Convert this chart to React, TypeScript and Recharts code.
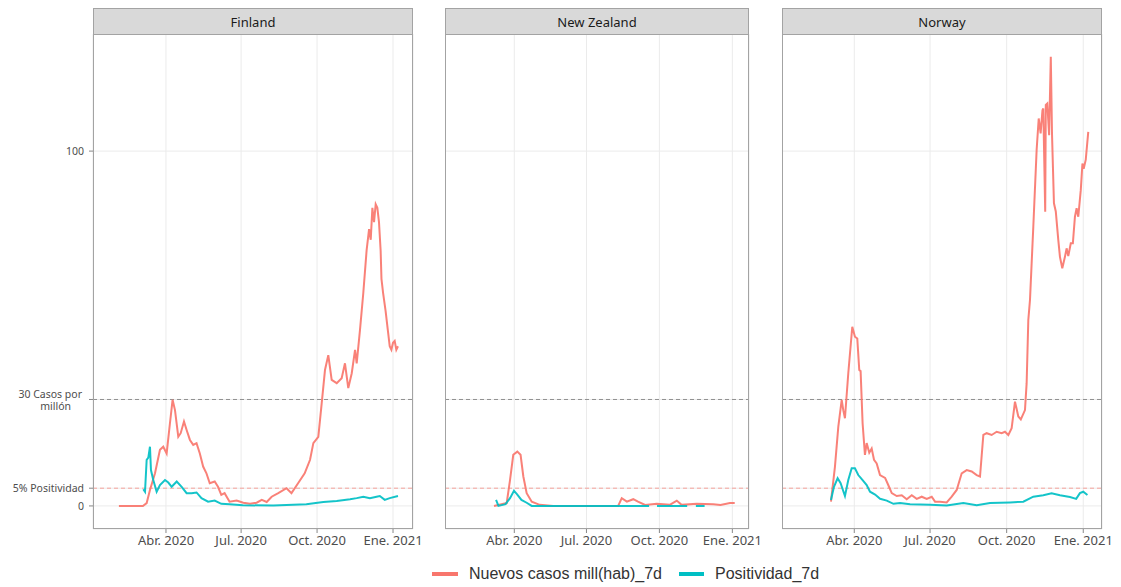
import React from 'react';
import { LineChart, Line, XAxis, YAxis, CartesianGrid, ReferenceLine } from 'recharts';

const RED = '#F8766D';
const TEAL = '#00BFC4';

// day numbers counted from 2020-01-01 (day 0)
const dateTicks = [91, 182, 274, 366];
const dateTickLabels = ['Abr. 2020', 'Jul. 2020', 'Oct. 2020', 'Ene. 2021'];
const yTicks = [0, 5, 30, 100];
const yTickLabels = ['0', '5% Positividad', '30 Casos por\nmillón', '100'];
const seriesNames = ['Nuevos casos mill(hab)_7d', 'Positividad_7d'];

type Pt = [number, number | null];

const finlandCases: Pt[] = [
  [34, 0], [50, 0], [63, 0], [67.6, 0.8], [71.6, 4.5], [77.7, 9.2], [83.7, 15.8], [87.7, 16.7],
  [91.8, 14.8], [95.8, 23.3], [99, 29.9], [101.9, 27], [105.9, 19.5], [108.8, 20.5], [112.8, 23.8],
  [116, 21.4], [120, 18.6], [124, 17.2], [128, 17.7], [132, 14.8], [136, 11.1], [140, 9.2],
  [144, 6.4], [150, 6.9], [154, 5.4], [158, 3.1], [162, 3.6], [168, 1.2], [176.6, 1.5],
  [184.6, 0.9], [192.8, 0.6], [200.8, 0.9], [207, 1.7], [213, 1.1], [219, 2.6], [227, 3.6],
  [237, 5], [243, 3.6], [251, 6.4], [259, 9.2], [265.5, 13], [269.5, 17.7], [275.5, 19.5],
  [279.6, 28.9], [283.6, 38.3], [287.6, 42.5], [291.7, 35.5], [297.8, 34.6], [303.8, 36],
  [307.8, 40.2], [311.8, 33.2], [316, 37.4], [320, 44], [322, 40.2], [326, 49.6], [330, 60],
  [334, 72], [337, 78], [339, 75], [341, 84], [343, 80], [345, 85], [347, 84], [349, 80],
  [351, 72], [352, 64], [354, 60], [357, 55], [360, 49], [362, 45], [364, 44], [366, 46],
  [368, 46.5], [370, 44], [372, 45],
];

const finlandPositivity: Pt[] = [
  [63.5, 4.7], [65.6, 4], [67.6, 13], [69.6, 13.6], [71.6, 16.7], [72.8, 10.1], [75.6, 7.3],
  [79.7, 4], [83.7, 5.9], [89.8, 7.3], [93.8, 6.6], [97.9, 5.4], [104, 6.9], [110, 5.4],
  [116, 3.6], [122, 3.6], [128, 3.8], [134, 2.2], [142, 1.2], [150, 1.5], [158, 0.6],
  [168, 0.5], [184, 0.2], [221, 0.1], [261, 0.5], [281.6, 1.1], [297.8, 1.4], [314, 1.9],
  [322, 2.2], [330, 2.6], [338, 2.2], [346, 2.6], [350, 2.8], [356, 1.7], [362, 2.2], [372, 2.8],
];

const nzCases: Pt[] = [
  [65.4, 0], [81.4, 0.8], [85.6, 7.3], [89.7, 14.4], [94.8, 15.3], [98.9, 14.4], [102.4, 8.3],
  [106.6, 3.6], [113, 1.2], [123, 0.3], [140, 0], [222, 0], [226.5, 2.2], [233, 1.2],
  [241, 1.9], [247, 1.2], [256, 0.3], [270.6, 0.6], [287, 0.3], [295.9, 1.5], [302, 0.3],
  [321, 0.6], [342, 0.5], [351, 0.3], [363, 0.8], [369, 0.8],
];

const nzPositivity: Pt[] = [
  [68, 1.7], [71, 0], [80, 0.5], [85.6, 2.2], [90.6, 4.3], [94.8, 3.2], [100, 1.7],
  [106.6, 0.9], [113, 0], [200, 0], [261, 0], [262, null], [271, 0], [309, 0], [310, null],
  [320, 0], [331, 0],
];

const norwayCases: Pt[] = [
  [63, 1.2], [67.8, 11.1], [71.8, 22.3], [75.9, 29.9], [77.8, 27], [79.8, 24.7], [83.8, 37.4],
  [88.6, 50.5], [91.8, 47.7], [94.6, 47.2], [97, 38.3], [98.6, 38], [101, 23.3], [103.8, 14.4],
  [105.9, 17.7], [109, 15], [111.9, 16.2], [114.7, 13], [117.9, 12], [121.9, 8.7], [128, 7.9],
  [131.8, 5.9], [136, 3.6], [142, 2.8], [148, 3], [154, 1.9], [160, 3], [166, 2], [172, 2.6],
  [178, 2], [184, 2.6], [188, 1.2], [194, 1.2], [202, 1.0], [208, 2.6], [214, 4.5], [220, 9.2],
  [226, 10.1], [232, 9.7], [238, 8.7], [242, 8.3], [246, 20], [250, 20.5], [256, 20], [262, 20.9],
  [268, 20.5], [272, 20.9], [276, 20], [280, 21.9], [284, 29.4], [288, 25.2], [291, 24.4],
  [296, 27], [298, 34.6], [300, 52.4], [302, 58], [306, 78.7], [310, 100.3], [312.5, 109.2],
  [314.8, 105], [317, 111.5], [318, 112], [320.3, 82.9], [321, 113], [322.8, 113.4], [325, 104.5],
  [327, 126.6], [328.5, 104.5], [330.8, 85.3], [333, 83], [336, 75], [338, 70.2], [340.8, 67],
  [344, 70.2], [346, 72.6], [348, 70.4], [351, 74], [353.5, 74], [356, 81.5], [358, 83.9],
  [360, 81.5], [363, 89], [365, 96.5], [366.5, 95], [369, 97.6], [372, 105.4],
];

const norwayPositivity: Pt[] = [
  [63, 1.7], [66.6, 5.4], [71, 7.8], [74.6, 6.4], [79.8, 2.8], [83.8, 7.3], [87.9, 10.6],
  [91.8, 10.6], [95.8, 8.7], [101, 7.3], [105.9, 5.9], [109.9, 4], [116, 3.2], [122, 2],
  [130, 1.5], [138, 0.6], [146, 0.8], [158, 0.5], [182, 0.3], [202, 0.1], [222, 0.8],
  [238, 0.2], [254, 0.8], [278, 1.0], [294, 1.2], [306, 2.6], [318, 3], [328, 3.6], [338, 3],
  [350, 2.5], [357.5, 2], [362, 3.6], [366, 4], [371, 3.1],
];

const countries = ['Finland', 'New Zealand', 'Norway'];

const toRows = (pts: Pt[]) => pts.map(([d, v]) => ({ d, v }));

const panels = [
  { name: countries[0], left: 93, width: 320, domain: [2.6, 390.2], cases: finlandCases, pos: finlandPositivity, showY: true },
  { name: countries[1], left: 445, width: 304, domain: [3.6, 387], cases: nzCases, pos: nzPositivity, showY: false },
  { name: countries[2], left: 782, width: 320, domain: [4.2, 388.5], cases: norwayCases, pos: norwayPositivity, showY: false },
];

const FONT = '"Noto Sans", "Open Sans", sans-serif';
const Y_AXIS_W = 93;
const PLOT_TOP = 34;
const PLOT_BOTTOM = 529;
const CHART_H = 560;
const RIGHT_PAD = 19;
const BORDER = '#a3a3a3';

const YTick = (props: any) => {
  const { x, y, payload } = props;
  const i = yTicks.indexOf(payload.value);
  const label = i >= 0 ? yTickLabels[i] : String(payload.value);
  const lines = label.split('\n');
  if (lines.length === 1) {
    return (
      <text x={x} y={y} dy="0.35em" textAnchor="end" fontSize={10.5} fontFamily={FONT} fill="#4d4d4d">
        {label}
      </text>
    );
  }
  return (
    <text textAnchor="end" fontSize={10.5} fontFamily={FONT} fill="#4d4d4d">
      <tspan x={x - 2} y={y - 5.5} dy="0.35em">{lines[0]}</tspan>
      <tspan x={x - 13} y={y + 6.5} dy="0.35em">{lines[1]}</tspan>
    </text>
  );
};

export default function App() {
  return (
    <div style={{ position: 'absolute', left: 0, top: 0, width: 1121, height: 587, background: '#fff', fontFamily: FONT, overflow: 'hidden' }}>
      {panels.map((p) => {
        const chartLeft = p.showY ? p.left - Y_AXIS_W : p.left;
        const chartW = (p.showY ? p.width + Y_AXIS_W : p.width) + RIGHT_PAD;
        return (
          <div key={p.name} style={{ position: 'absolute', left: chartLeft, top: 0, width: chartW, height: CHART_H }}>
            <LineChart width={chartW} height={CHART_H} margin={{ top: PLOT_TOP, right: RIGHT_PAD, bottom: 0, left: 0 }}>
              <CartesianGrid stroke="#ebebeb" strokeWidth={1} />
              <XAxis
                type="number"
                dataKey="d"
                domain={p.domain}
                allowDataOverflow
                ticks={dateTicks}
                tickFormatter={(v: number) => dateTickLabels[dateTicks.indexOf(v)] ?? ''}
                height={CHART_H - PLOT_BOTTOM}
                axisLine={false}
                tickLine={{ stroke: '#888', strokeWidth: 1 }}
                tickSize={4}
                tickMargin={3}
                tick={{ fontSize: 13, fill: '#4d4d4d', fontFamily: FONT }}
                interval={0}
              />
              <YAxis
                type="number"
                dataKey="v"
                domain={[-6.5, 133]}
                allowDataOverflow
                ticks={yTicks}
                hide={!p.showY}
                width={Y_AXIS_W}
                axisLine={false}
                tickLine={{ stroke: '#888', strokeWidth: 1 }}
                tickSize={4}
                tickMargin={5}
                tick={<YTick />}
                interval={0}
              />
              <ReferenceLine y={30} stroke="#8f8f8f" strokeDasharray="4 3" strokeWidth={1} />
              <ReferenceLine y={5} stroke="#f5a39c" strokeDasharray="4 3" strokeWidth={1} />
              <Line
                data={toRows(p.cases)}
                dataKey="v"
                type="linear"
                stroke={RED}
                strokeWidth={2}
                strokeOpacity={0.92}
                dot={false}
                isAnimationActive={false}
                name={seriesNames[0]}
              />
              <Line
                data={toRows(p.pos)}
                dataKey="v"
                type="linear"
                stroke={TEAL}
                strokeWidth={2}
                strokeOpacity={0.92}
                dot={false}
                isAnimationActive={false}
                name={seriesNames[1]}
              />
            </LineChart>
          </div>
        );
      })}
      {panels.map((p) => (
        <React.Fragment key={'f' + p.name}>
          <div
            style={{
              position: 'absolute', left: p.left, top: 8, width: p.width, height: PLOT_TOP - 8 + 1,
              boxSizing: 'border-box', background: '#d9d9d9', border: `1.5px solid ${BORDER}`,
              display: 'flex', alignItems: 'center', justifyContent: 'center',
              fontSize: 13, color: '#1a1a1a', fontFamily: FONT,
            }}
          >
            {p.name}
          </div>
          <div
            style={{
              position: 'absolute', left: p.left, top: PLOT_TOP, width: p.width, height: PLOT_BOTTOM - PLOT_TOP,
              boxSizing: 'border-box', border: `1.5px solid ${BORDER}`, pointerEvents: 'none',
            }}
          />
        </React.Fragment>
      ))}
      <div style={{ position: 'absolute', left: 432, top: 572, width: 26, height: 4, background: RED }} />
      <div style={{ position: 'absolute', left: 469, top: 565, fontSize: 16, lineHeight: '18px', color: '#333', fontFamily: '"Liberation Sans", Arial, sans-serif' }}>
        {seriesNames[0]}
      </div>
      <div style={{ position: 'absolute', left: 679, top: 572, width: 25, height: 4, background: TEAL }} />
      <div style={{ position: 'absolute', left: 715, top: 565, fontSize: 16, lineHeight: '18px', color: '#333', fontFamily: '"Liberation Sans", Arial, sans-serif' }}>
        {seriesNames[1]}
      </div>
    </div>
  );
}
